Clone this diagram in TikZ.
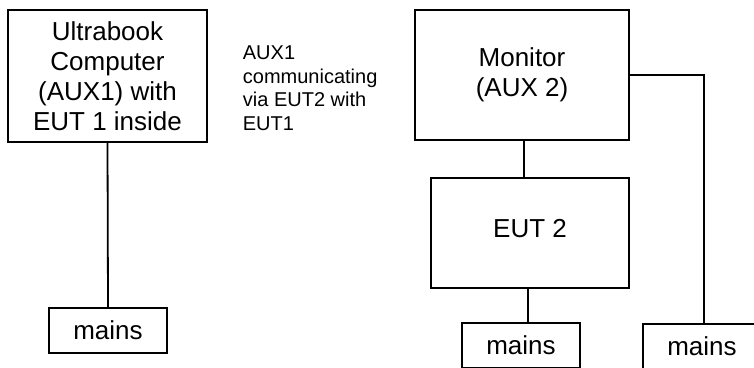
\documentclass[tikz,border=0pt]{standalone}
\usepackage{fontspec}
\setmainfont{Liberation Sans}
\usetikzlibrary{positioning}
\tikzset{
  every picture/.append style={line width=1.8pt},
  unitbox/.style={rectangle,draw=black,fill=white,align=center,inner sep=2pt,font=\fontsize{26}{30}\selectfont},
  mainsbox/.style={rectangle,draw=black,fill=white,minimum width=118pt,minimum height=45pt,inner sep=1pt,font=\fontsize{26}{30}\selectfont},
  notetext/.style={align=left,inner sep=0pt,font=\fontsize{20}{23.5}\selectfont},
}
\begin{document}
\begin{tikzpicture}[x=1pt,y=1pt]
  \useasboundingbox (0,0) rectangle (754,367);

  % left side: ultrabook
  \node[unitbox, minimum width=199pt, minimum height=132pt] (aux1) at (107.5,291) {Ultrabook\\Computer\\(AUX1) with\\EUT 1 inside};
  \node[mainsbox] (mains1) at (108,36.5) {mains};
  \draw (aux1.south) -- (mains1.north);

  \node[notetext, anchor=north west] (note) at (242,322) {AUX1\\communicating\\via EUT2 with\\EUT1};

  % right side: monitor and EUT 2
  \node[unitbox, minimum width=214pt, minimum height=130pt] (mon) at (522,292) {Monitor\\(AUX 2)};
  \node[unitbox, minimum width=198pt, minimum height=110pt, text depth=9pt] (eut2) at (530,134) {EUT 2};
  \node[mainsbox] (mains2) at (521,21.5) {mains};
  \node[mainsbox] (mains3) at (702,20.5) {mains};

  \draw ([xshift=2pt]mon.south) -- ([xshift=2pt]mon.south |- eut2.north);
  \draw ([xshift=-2pt]eut2.south) -- ([xshift=-2pt]eut2.south |- mains2.north);
  \draw (mon.east) -| ([xshift=2pt]mains3.north);
\end{tikzpicture}
\end{document}
